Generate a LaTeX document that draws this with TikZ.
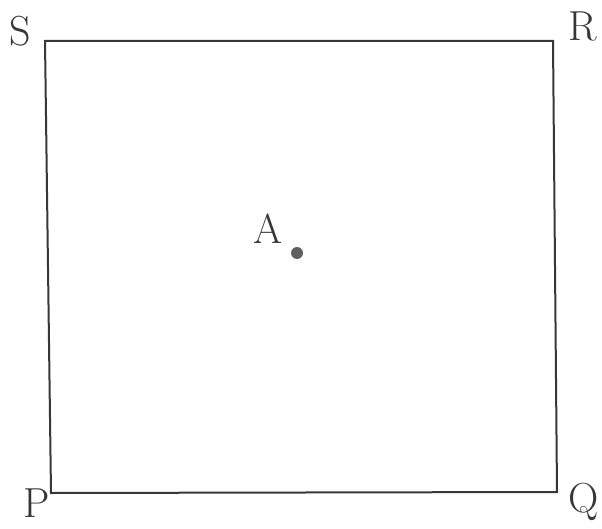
\documentclass[tikz,border=0pt]{standalone}
\usepackage{tikz}
\usetikzlibrary{positioning}
\definecolor{Tinta}{RGB}{55,55,55}

\begin{document}
\begin{tikzpicture}[
  x=1pt, y=-1pt,
  lado/.style={
    line width=2pt, color=Tinta, line join=miter
  },
  vert/.style={
    font=\fontsize{42}{42}\selectfont, text=Tinta,
    inner sep=0pt
  },
  punto/.style={
    circle, fill=Tinta!80, inner sep=0pt, minimum size=12pt
  }
]
\useasboundingbox (0,0) rectangle (602,529);

%% ── Vértices del cuadrado ────────────────────────────────────────────────
\coordinate (S) at (45, 41);
\coordinate (R) at (553, 41);
\coordinate (Q) at (557, 492);
\coordinate (P) at (51, 493);

%% ── Lados ────────────────────────────────────────────────────────────────
\draw[lado] (P) -- (Q) -- (R) -- (S) -- cycle;

%% ── Rótulos de los vértices ──────────────────────────────────────────────
\node[vert] (lS) at (20, 31)  {S};
\node[vert] (lR) at (583, 26) {R};
\node[vert] (lP) at (37, 503) {P};
\node[vert] (lQ) at (584, 502) {Q};

%% ── Punto interior ───────────────────────────────────────────────────────
\node[punto] (A) at (297, 253) {};
\node[vert, above left=9pt and 14pt of A.center] (lA) {A};

\end{tikzpicture}
\end{document}
